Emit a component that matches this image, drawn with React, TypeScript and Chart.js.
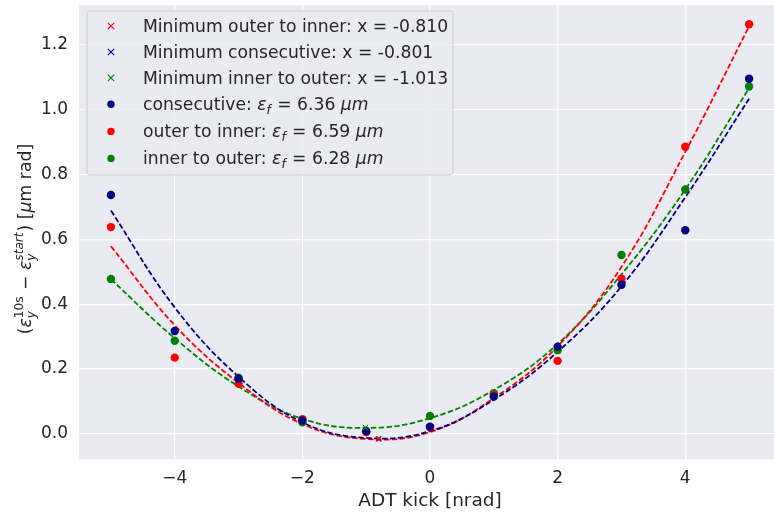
import React, { useEffect, useRef } from 'react';
import { Chart, registerables } from 'chart.js';

Chart.register(...registerables);

// ---------- data ----------
const kicks = [-5, -4, -3, -2, -1, 0, 1, 2, 3, 4, 5];
const consecutive = [0.737, 0.317, 0.17, 0.041, 0.008, 0.022, 0.115, 0.269, 0.46, 0.628, 1.096];
const outerToInner = [0.638, 0.235, 0.154, 0.045, 0.005, 0.02, 0.12, 0.225, 0.479, 0.886, 1.264];
const innerToOuter = [0.478, 0.287, 0.173, 0.035, 0.005, 0.055, 0.125, 0.258, 0.552, 0.754, 1.072];

const fitKicks = [-5, -4, -3, -2, -1, 0, 1, 2, 3, 4, 5];
const consecutiveFit = [0.689, 0.39, 0.176, 0.035, -0.013, 0.008, 0.105, 0.253, 0.455, 0.73, 1.034];
const outerToInnerFit = [0.579, 0.335, 0.157, 0.03, -0.016, 0.005, 0.11, 0.27, 0.515, 0.87, 1.258];
const innerToOuterFit = [0.477, 0.295, 0.146, 0.046, 0.018, 0.048, 0.135, 0.277, 0.492, 0.754, 1.067];

const minNames = ['outer to inner', 'consecutive', 'inner to outer'];
const minX = [-0.81, -0.801, -1.013];
const minY = [-0.016, -0.016, 0.019];

const seriesNames = ['consecutive', 'outer to inner', 'inner to outer'];
const emittances = [6.36, 6.59, 6.28];

const xTicks = [-4, -2, 0, 2, 4];
const yTicks = [0, 0.2, 0.4, 0.6, 0.8, 1.0, 1.2];

// ---------- style ----------
const NAVY = '#000080';
const RED = '#ff0000';
const GREEN = '#008000';
const TEXT = '#262626';
const FAM = '"DejaVu Sans", "Liberation Sans", sans-serif';
const fnt = (size: number, italic?: boolean) => `${italic ? 'italic ' : ''}${size}px ${FAM}`;

type Run = { t?: string; it?: boolean; sub?: string; sup?: string; supIt?: boolean };

function drawRuns(ctx: CanvasRenderingContext2D, runs: Run[], x0: number, y: number, size: number, draw: boolean): number {
  let x = x0;
  const small = size * 0.7;
  for (const r of runs) {
    if (r.t !== undefined) {
      ctx.font = fnt(size, r.it);
      if (draw) ctx.fillText(r.t, x, y);
      x += ctx.measureText(r.t).width;
    } else {
      let w = 0;
      if (r.sub) {
        ctx.font = fnt(small, true);
        if (draw) ctx.fillText(r.sub, x, y + size * 0.22);
        w = Math.max(w, ctx.measureText(r.sub).width);
      }
      if (r.sup) {
        ctx.font = fnt(small, r.supIt);
        if (draw) ctx.fillText(r.sup, x, y - size * 0.45);
        w = Math.max(w, ctx.measureText(r.sup).width);
      }
      x += w + 1;
    }
  }
  return x - x0;
}

function drawCross(ctx: CanvasRenderingContext2D, x: number, y: number, r: number, color: string) {
  ctx.save();
  ctx.strokeStyle = color;
  ctx.lineWidth = 1.1;
  ctx.beginPath();
  ctx.moveTo(x - r, y - r);
  ctx.lineTo(x + r, y + r);
  ctx.moveTo(x - r, y + r);
  ctx.lineTo(x + r, y - r);
  ctx.stroke();
  ctx.restore();
}

const minColors = [RED, NAVY, GREEN];
const dotColors = [NAVY, RED, GREEN];

const overlayPlugin = {
  id: 'overlay',
  beforeDraw(chart: any) {
    const { ctx, chartArea } = chart;
    ctx.save();
    ctx.fillStyle = '#EAEAF2';
    ctx.fillRect(chartArea.left, chartArea.top, chartArea.right - chartArea.left, chartArea.bottom - chartArea.top);
    ctx.restore();
  },
  afterDraw(chart: any) {
    const ctx: CanvasRenderingContext2D = chart.ctx;
    ctx.save();
    ctx.fillStyle = TEXT;
    ctx.textBaseline = 'alphabetic';
    ctx.textAlign = 'left';

    // x axis title
    ctx.font = fnt(18.5);
    const xt = 'ADT kick [nrad]';
    const xw = ctx.measureText(xt).width;
    ctx.fillText(xt, 430 - xw / 2, 505.5);

    // y axis title (rotated)
    const yRuns: Run[] = [
      { t: '(' },
      { t: 'ε', it: true },
      { sub: 'y', sup: '10s' },
      { t: ' − ' },
      { t: 'ε', it: true },
      { sub: 'y', sup: 'start', supIt: true },
      { t: ') [' },
      { t: 'μ', it: true },
      { t: 'm rad]' },
    ];
    const ySize = 17.3;
    const yw = drawRuns(ctx, yRuns, 0, 0, ySize, false);
    ctx.save();
    ctx.translate(31, 239);
    ctx.rotate(-Math.PI / 2);
    drawRuns(ctx, yRuns, -yw / 2, 0, ySize, true);
    ctx.restore();

    // legend
    const lx = 87, ly = 11, lw = 366, lh = 164;
    ctx.save();
    ctx.beginPath();
    const rr = 3;
    ctx.moveTo(lx + rr, ly);
    ctx.arcTo(lx + lw, ly, lx + lw, ly + lh, rr);
    ctx.arcTo(lx + lw, ly + lh, lx, ly + lh, rr);
    ctx.arcTo(lx, ly + lh, lx, ly, rr);
    ctx.arcTo(lx, ly, lx + lw, ly, rr);
    ctx.closePath();
    ctx.fillStyle = 'rgba(234,234,242,0.8)';
    ctx.fill();
    ctx.strokeStyle = '#cccccc';
    ctx.lineWidth = 1;
    ctx.stroke();
    ctx.restore();

    const baselines = [32.3, 58.3, 84.2, 110.2, 137.4, 164.4];
    const legSize = 17.2;
    ctx.fillStyle = TEXT;
    for (let i = 0; i < 3; i++) {
      const by = baselines[i];
      drawCross(ctx, 111, by - 6.3, 3.2, minColors[i]);
      ctx.fillStyle = TEXT;
      drawRuns(ctx, [{ t: `Minimum ${minNames[i]}: x = ${minX[i].toFixed(3)}` }], 143, by, legSize, true);
    }
    for (let i = 0; i < 3; i++) {
      const by = baselines[i + 3];
      ctx.beginPath();
      ctx.fillStyle = dotColors[i];
      ctx.arc(111, by - 6, 3.7, 0, Math.PI * 2);
      ctx.fill();
      ctx.fillStyle = TEXT;
      drawRuns(
        ctx,
        [
          { t: `${seriesNames[i]}: ` },
          { t: 'ε', it: true },
          { sub: 'f' },
          { t: ` = ${emittances[i].toFixed(2)} ` },
          { t: 'μm', it: true },
        ],
        143,
        by,
        legSize,
        true
      );
    }
    ctx.restore();
  },
};

const toXY = (xs: number[], ys: number[]) => xs.map((x, i) => ({ x, y: ys[i] }));

export default function App() {
  const ref = useRef<HTMLCanvasElement | null>(null);

  useEffect(() => {
    if (!ref.current) return;
    const fitStyle = (color: string) => ({
      showLine: true,
      borderColor: color,
      borderWidth: 1.8,
      borderDash: [5.5, 2.4],
      pointRadius: 0,
      tension: 0.4,
      fill: false,
    });
    const dotStyle = (color: string) => ({
      showLine: false,
      backgroundColor: color,
      borderColor: color,
      borderWidth: 0,
      pointRadius: 4.2,
      pointStyle: 'circle',
    });
    const crossStyle = (color: string) => ({
      showLine: false,
      borderColor: color,
      backgroundColor: color,
      borderWidth: 1.2,
      pointRadius: 3.5,
      pointStyle: 'crossRot',
    });

    const datasets: any[] = [
      ...minX.map((x, i) => ({ label: `min ${minNames[i]}`, data: [{ x, y: minY[i] }], ...crossStyle(minColors[i]), order: 0 })),
      { label: 'consecutive', data: toXY(kicks, consecutive), ...dotStyle(NAVY), order: 1 },
      { label: 'outer to inner', data: toXY(kicks, outerToInner), ...dotStyle(RED), order: 1 },
      { label: 'inner to outer', data: toXY(kicks, innerToOuter), ...dotStyle(GREEN), order: 1 },
      { label: 'fit consecutive', data: toXY(fitKicks, consecutiveFit), ...fitStyle(NAVY), order: 2 },
      { label: 'fit outer to inner', data: toXY(fitKicks, outerToInnerFit), ...fitStyle(RED), order: 2 },
      { label: 'fit inner to outer', data: toXY(fitKicks, innerToOuterFit), ...fitStyle(GREEN), order: 2 },
    ];

    const chart = new Chart(ref.current, {
      type: 'scatter',
      data: { datasets },
      options: {
        animation: false,
        responsive: false,
        devicePixelRatio: 1,
        layout: { padding: { left: 0, top: 3, right: 9, bottom: 0 } },
        plugins: { legend: { display: false }, tooltip: { enabled: false } },
        scales: {
          x: {
            type: 'linear',
            min: -5.5,
            max: 5.5,
            afterBuildTicks: (s: any) => {
              s.ticks = xTicks.map((v) => ({ value: v }));
            },
            afterFit: (s: any) => {
              s.height = 54;
              s.paddingLeft = 0;
              s.paddingRight = 0;
            },
            border: { display: false },
            grid: { color: '#ffffff', lineWidth: 1.3, drawTicks: false },
            ticks: {
              padding: 9,
              color: TEXT,
              font: { family: FAM, size: 17 },
              callback: (v: any) => (v < 0 ? '\u2212' + Math.abs(v) : String(v)),
            },
          },
          y: {
            type: 'linear',
            min: -0.078,
            max: 1.323,
            afterBuildTicks: (s: any) => {
              s.ticks = yTicks.map((v) => ({ value: v }));
            },
            afterFit: (s: any) => {
              s.width = 79;
              s.paddingTop = 0;
              s.paddingBottom = 0;
            },
            border: { display: false },
            grid: { color: '#ffffff', lineWidth: 1.3, drawTicks: false },
            ticks: {
              padding: 11,
              color: TEXT,
              font: { family: FAM, size: 17 },
              callback: (v: any) => Number(v).toFixed(1),
            },
          },
        },
      },
      plugins: [overlayPlugin],
    } as any);
    return () => chart.destroy();
  }, []);

  return (
    <div style={{ position: 'fixed', left: 0, top: 0, width: 774, height: 513, overflow: 'hidden', background: '#ffffff' }}>
      <canvas ref={ref} width={790} height={513} style={{ width: 790, height: 513, display: 'block' }} />
    </div>
  );
}
